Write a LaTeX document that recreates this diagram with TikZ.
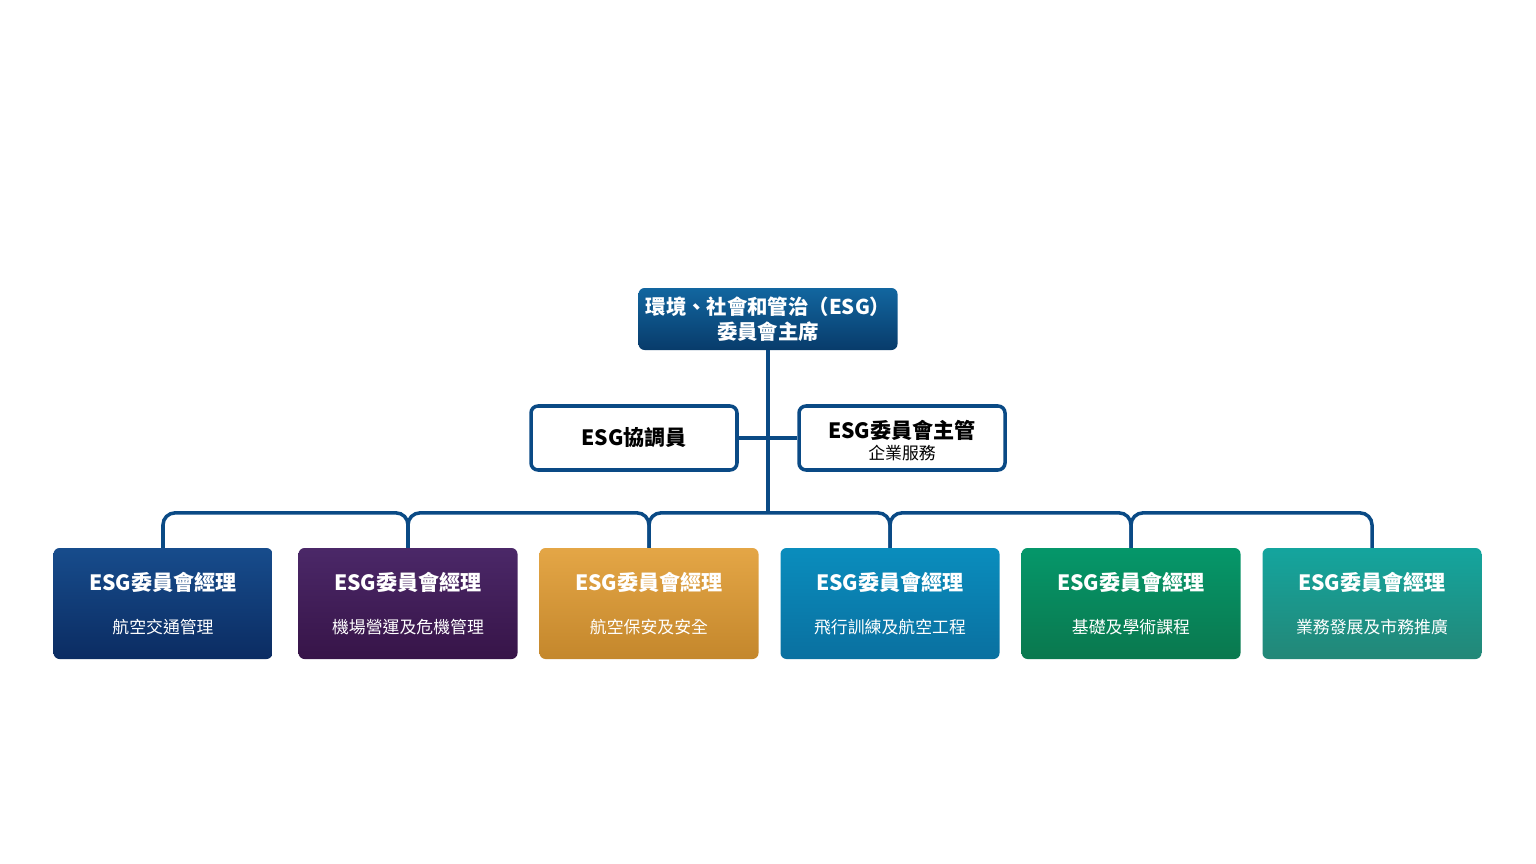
\documentclass[tikz,border=0pt]{standalone}
\usepackage{fontspec}
\newfontfamily\cjk{Noto Sans CJK TC}[BoldFont={* Black}]
\definecolor{esgnavy}{HTML}{0A4A85}
\definecolor{bAtop}{HTML}{174C8C}\definecolor{bAbot}{HTML}{0B2C62}
\definecolor{bBtop}{HTML}{4B2868}\definecolor{bBbot}{HTML}{371448}
\definecolor{bCtop}{HTML}{E4A646}\definecolor{bCbot}{HTML}{C4872C}
\definecolor{bDtop}{HTML}{0A8DBD}\definecolor{bDbot}{HTML}{0A70A0}
\definecolor{bEtop}{HTML}{05976A}\definecolor{bEbot}{HTML}{0A784E}
\definecolor{bFtop}{HTML}{14A59E}\definecolor{bFbot}{HTML}{238777}
\tikzset{
  headbox/.style={rounded corners=0.3cm, top color=#1top, bottom color=#1bot,
    minimum width=10.95cm, minimum height=5.55cm},
  sidebox/.style={draw=esgnavy, line width=5pt, fill=white, rounded corners=0.35cm,
    minimum width=10.3cm, minimum height=3.2cm, align=center},
  bus/.style={draw=esgnavy, line width=5pt, rounded corners=0.6cm},
  tit/.style={text=white, font=\cjk\bfseries\fontsize{30}{34}\selectfont},
  sub/.style={text=white, font=\cjk\fontsize{24}{28}\selectfont},
}
\begin{document}
\begin{tikzpicture}[x=0.05cm, y=-0.05cm]
  \useasboundingbox (0,0) rectangle (1536,864);
  % chair
  \node (chair) [rounded corners=0.3cm, top color=bAtop!60!bDtop, bottom color=esgnavy!80!black,
    minimum width=12.95cm, minimum height=3.1cm, align=center, tit,
    font=\cjk\bfseries\fontsize{29}{36}\selectfont] at (768,319)
    {環境、社會和管治（ESG）\\委員會主席};
  % side boxes
  \node (coord) [sidebox, font=\cjk\bfseries\fontsize{30}{34}\selectfont] at (634,438) {ESG協調員};
  \node (head) [sidebox] at (902,438) {};
  \node (headt) [font=\cjk\bfseries\fontsize{30}{34}\selectfont] at (902,430) {ESG委員會主管};
  \node (heads) [font=\cjk\fontsize{24}{28}\selectfont] at (902,453) {企業服務};
  \coordinate (hub) at (768,513);
  \draw [bus] (chair.south) -- (hub);
  \draw [bus] (coord.east) -- (head.west);
  % managers
  \foreach \n/\x/\c/\s in {1/163/bA/航空交通管理, 2/408/bB/機場營運及危機管理,
      3/649/bC/航空保安及安全, 4/890/bD/飛行訓練及航空工程,
      5/1131/bE/基礎及學術課程, 6/1372/bF/業務發展及市務推廣} {
    \node (m\n) [headbox=\c] at (\x,603.5) {};
    \node (mt\n) [tit] at (\x,582) {ESG委員會經理};
    \node (ms\n) [sub] at (\x,627) {\s};
  }
  \foreach \a/\b in {1/2, 2/3, 3/4, 4/5, 5/6}
    \draw [bus] (m\a.north) -- ++(0,-35) -| (m\b.north);
\end{tikzpicture}
\end{document}
